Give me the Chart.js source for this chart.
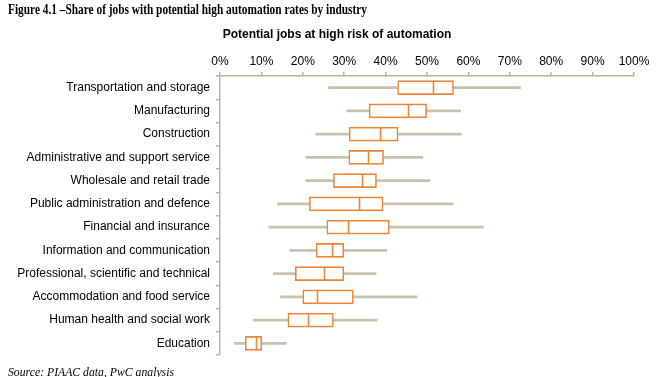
<!DOCTYPE html>
<html>
<head>
<meta charset="utf-8">
<script src="https://cdn.jsdelivr.net/npm/chart.js@4/dist/chart.umd.min.js"></script>
<style>
  html, body { margin: 0; padding: 0; background: #fff; }
  #wrap { position: relative; width: 662px; height: 377px; overflow: hidden; }
  #c { position: absolute; left: 0; top: 0; }
  .txt { position: absolute; white-space: nowrap; transform-origin: 0 0; color: #000; }
  #title { left: 8px; top: 1px; font-family: "Liberation Serif", "DejaVu Serif", serif; font-weight: bold; font-size: 15px; }
  #axtitle { left: 0; top: 27px; width: 674px; text-align: center; font-family: "Liberation Sans", Arial, sans-serif; font-weight: bold; font-size: 12px; }
  #source { left: 8px; top: 365px; font-family: "Liberation Serif", "DejaVu Serif", serif; font-style: italic; font-size: 12px; }
</style>
</head>
<body>
<div id="wrap">
  <canvas id="c" width="662" height="377"></canvas>
  <div class="txt" id="title">Figure 4.1 –Share of jobs with potential high automation rates by industry</div>
  <div class="txt" id="axtitle">Potential jobs at high risk of automation</div>
  <div class="txt" id="source">Source: PIAAC data, PwC analysis</div>
</div>
<script>
const categories = [
  "Transportation and storage",
  "Manufacturing",
  "Construction",
  "Administrative and support service",
  "Wholesale and retail trade",
  "Public administration and defence",
  "Financial and insurance",
  "Information and communication",
  "Professional, scientific and technical",
  "Accommodation and food service",
  "Human health and social work",
  "Education"
];
const minValues    = [26.1, 30.6, 23.1, 20.8, 20.7, 13.9, 11.8, 16.9, 12.9, 14.6,  8.0,  3.5];
const q1Values     = [42.9, 36.0, 31.2, 31.1, 27.4, 21.6, 25.8, 23.2, 18.2, 20.0, 16.4,  6.1];
const medianValues = [51.5, 45.4, 38.7, 35.7, 34.3, 33.6, 30.8, 27.0, 25.2, 23.4, 21.2,  8.6];
const q3Values     = [56.4, 49.9, 43.0, 39.5, 37.8, 39.4, 40.9, 29.9, 29.9, 32.2, 27.4, 10.1];
const maxValues    = [72.6, 58.1, 58.3, 49.0, 50.7, 56.3, 63.6, 40.3, 37.7, 47.6, 38.0, 16.0];
const tickValues   = [0, 10, 20, 30, 40, 50, 60, 70, 80, 90, 100];

const ORANGE = "#EE8636";
const WHISKER = "#C8C1AE";
const AXIS = "#BDB399";

function fitWidth(id, target) {
  const el = document.getElementById(id);
  const w = el.getBoundingClientRect().width;
  el.style.transform = "scaleX(" + (target / w) + ")";
}
fitWidth("title", 359);
fitWidth("source", 166);

const medianPlugin = {
  id: "medianLines",
  afterDatasetsDraw(chart) {
    const xs = chart.scales.x;
    const meta = chart.getDatasetMeta(1);
    const ctx = chart.ctx;
    ctx.save();
    ctx.strokeStyle = ORANGE;
    ctx.lineWidth = 1.6;
    medianValues.forEach((m, i) => {
      const bar = meta.data[i];
      const x = Math.round(xs.getPixelForValue(m)) + 0.5;
      const h = bar.height;
      ctx.beginPath();
      ctx.moveTo(x, bar.y - h / 2);
      ctx.lineTo(x, bar.y + h / 2);
      ctx.stroke();
    });
    ctx.restore();
  }
};

Chart.defaults.font.family = '"Liberation Sans", Arial, sans-serif';
Chart.defaults.font.size = 12;
Chart.defaults.color = "#000";

new Chart(document.getElementById("c"), {
  type: "bar",
  data: {
    labels: categories,
    datasets: [
      {
        label: "Range",
        data: categories.map((_, i) => [minValues[i], maxValues[i]]),
        backgroundColor: WHISKER,
        borderWidth: 0,
        barThickness: 2,
        grouped: false,
        order: 2
      },
      {
        label: "Interquartile",
        data: categories.map((_, i) => [q1Values[i], q3Values[i]]),
        backgroundColor: "#FFFFFF",
        borderColor: ORANGE,
        borderWidth: 1.6,
        borderSkipped: false,
        barThickness: 14,
        grouped: false,
        order: 1
      }
    ]
  },
  options: {
    indexAxis: "y",
    responsive: false,
    animation: false,
    layout: { padding: { left: 0, right: 28, top: 46, bottom: 22 } },
    plugins: { legend: { display: false }, tooltip: { enabled: false }, title: { display: false } },
    scales: {
      x: {
        position: "top",
        min: 0,
        max: 100,
        afterBuildTicks(scale) { scale.ticks = tickValues.map(v => ({ value: v })); },
        ticks: { callback: v => v + "%", padding: 3, maxRotation: 0, autoSkip: false },
        grid: { drawOnChartArea: false, drawTicks: true, tickLength: 4, color: AXIS, lineWidth: 1.5 },
        border: { color: AXIS, width: 1.5 },
        afterFit(scale) { scale.height = 30; }
      },
      y: {
        ticks: { padding: 6, autoSkip: false },
        grid: { drawOnChartArea: false, drawTicks: true, tickLength: 4, color: AXIS, lineWidth: 1.5, offset: true },
        border: { color: AXIS, width: 1.5 },
        afterFit(scale) { scale.width = 220; }
      }
    }
  },
  plugins: [medianPlugin]
});
</script>
</body>
</html>
